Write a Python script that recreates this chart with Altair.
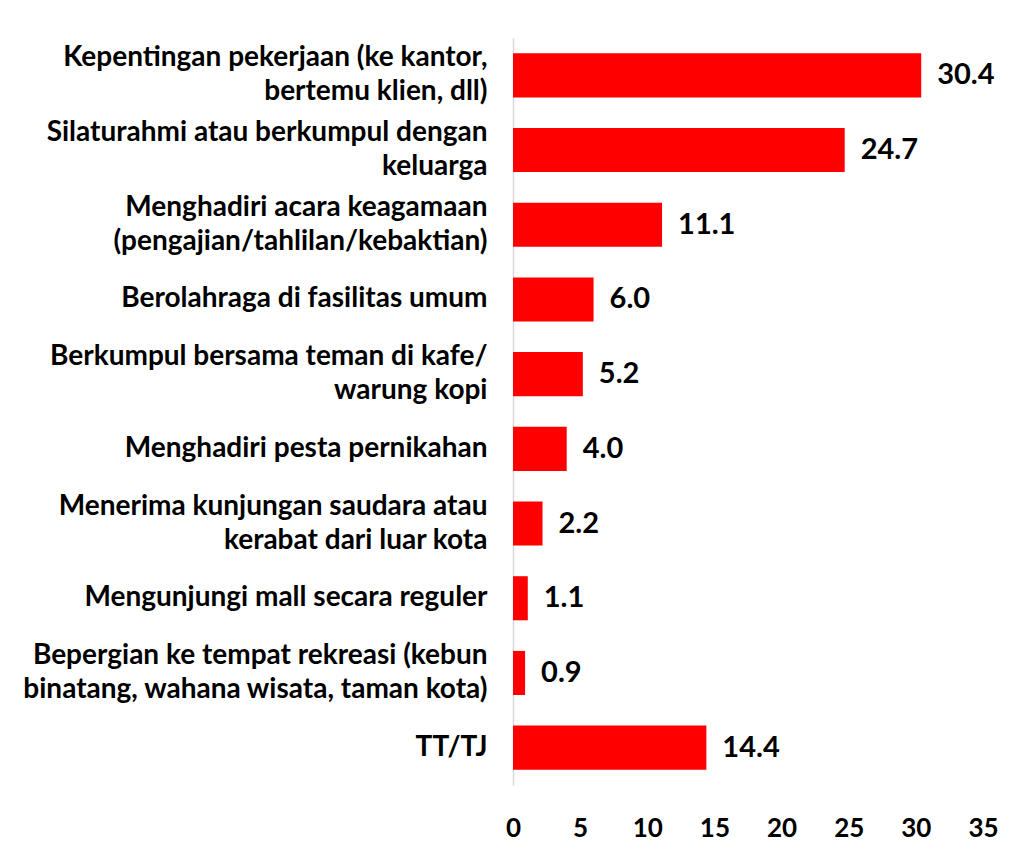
import altair as alt
import pandas as pd

categories = [
    "Kepentingan pekerjaan (ke kantor,|bertemu klien, dll)",
    "Silaturahmi atau berkumpul dengan|keluarga",
    "Menghadiri acara keagamaan|(pengajian/tahlilan/kebaktian)",
    "Berolahraga di fasilitas umum",
    "Berkumpul bersama teman di kafe/|warung kopi",
    "Menghadiri pesta pernikahan",
    "Menerima kunjungan saudara atau|kerabat dari luar kota",
    "Mengunjungi mall secara reguler",
    "Bepergian ke tempat rekreasi (kebun|binatang, wahana wisata, taman kota)",
    "TT/TJ",
]
values = [30.4, 24.7, 11.1, 6.0, 5.2, 4.0, 2.2, 1.1, 0.9, 14.4]
x_ticks = [0, 5, 10, 15, 20, 25, 30, 35]

df = pd.DataFrame({"cat": categories, "val": values})
df["lbl"] = df["val"].map(lambda v: f"{v:.1f}")

FONT = "Lato"

y_enc = alt.Y(
    "cat:N",
    sort=None,
    scale=alt.Scale(paddingInner=0.41),
    axis=alt.Axis(
        title=None,
        ticks=False,
        domain=True,
        domainColor="#d9d9d9",
        domainWidth=1.5,
        labelExpr="split(datum.label, '|')",
        labelFont=FONT,
        labelFontWeight="bold",
        labelFontSize=28,
        labelColor="black",
        labelLineHeight=34,
        labelPadding=26,
        labelLimit=600,
        labelOffset={"condition": {"test": "indexof(datum.value, '|') >= 0", "value": -17}, "value": 0},
    ),
)

x_enc = alt.X(
    "val:Q",
    scale=alt.Scale(domain=[0, 35], nice=False),
    axis=alt.Axis(
        title=None,
        values=x_ticks,
        grid=False,
        ticks=False,
        domain=False,
        labelFont=FONT,
        labelFontWeight="bold",
        labelFontSize=26,
        labelColor="black",
        labelPadding=30,
        labelFlush=False,
    ),
)

bars = alt.Chart(df).mark_bar(color="#FF0000").encode(x=x_enc, y=y_enc)

text = alt.Chart(df).mark_text(
    align="left",
    baseline="middle",
    dx=16,
    font=FONT,
    fontWeight="bold",
    fontSize=29,
    color="black",
).encode(x="val:Q", y=alt.Y("cat:N", sort=None), text="lbl:N")

chart = (
    (bars + text)
    .properties(
        width=470,
        height=747,
        autosize=alt.AutoSizeParams(type="none"),
        padding={"left": 505, "top": 30, "right": 36, "bottom": 59},
    )
    .configure_view(stroke=None)
)

chart.save("out.html", embed_options={"renderer": "svg", "actions": False})
